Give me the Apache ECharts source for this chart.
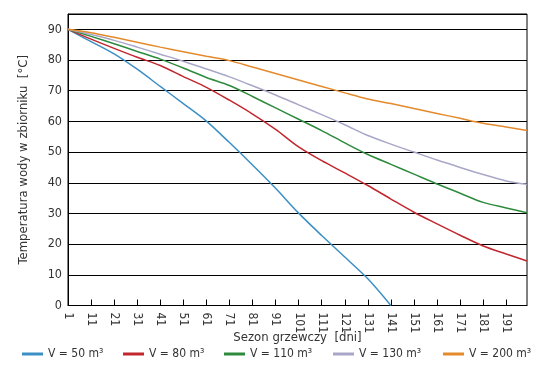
<!DOCTYPE html>
<html>
<head>
<meta charset="utf-8">
<script src="https://cdn.jsdelivr.net/npm/echarts@6/dist/echarts.min.js"></script>
<style>html,body{margin:0;padding:0;background:#fff}#c{width:545px;height:375px}</style>
</head>
<body>
<div id="c"></div>
<script>
var days = [1, 11, 21, 31, 41, 51, 61, 71, 81, 91, 101, 111, 121, 131, 141, 151, 161, 171, 181, 191, 200];
var v50  = [90, 86, 82, 77, 71.4, 65.8, 60.1, 53.1, 45.8, 38.2, 30.1, 22.8, 15.8, 8.7, 0];
var v80  = [90, 86.8, 83.8, 80.9, 78.2, 74.6, 71.1, 66.9, 62.4, 57.4, 51.7, 47.2, 43.2, 39.1, 34.7, 30.4, 26.6, 22.9, 19.4, 16.8, 14.5];
var v110 = [90, 87.7, 85.3, 82.8, 80.3, 77.4, 74.3, 71.7, 68.1, 64.4, 60.7, 57.0, 53.0, 49.2, 46.0, 42.8, 39.6, 36.6, 33.6, 31.8, 30.2];
var v130 = [90, 88.3, 86.4, 84.2, 81.9, 79.6, 77.1, 74.5, 71.6, 68.6, 65.4, 62.2, 58.9, 55.4, 52.6, 50.0, 47.4, 45.0, 42.7, 40.6, 39.5];
var v200 = [90, 88.9, 87.4, 85.8, 84.2, 82.7, 81.2, 79.8, 77.7, 75.6, 73.5, 71.4, 69.3, 67.3, 65.8, 64.2, 62.6, 61.0, 59.4, 58.2, 57.0];
var names = ['V = 50 m³', 'V = 80 m³', 'V = 110 m³', 'V = 130 m³', 'V = 200 m³'];
var colors = ['#3b8fc4', '#c1272d', '#2e8b3e', '#a9a7c8', '#e48a2c'];
var xTitle = 'Sezon grzewczy  [dni]';
var yTitle = 'Temperatura wody w zbiorniku  [°C]';

var FONT = '"Liberation Sans Narrow", "DejaVu Sans Condensed", "Liberation Sans", sans-serif';
var legendLefts = [22, 123, 224, 333, 443];
function pairs(vals) { return vals.map(function (v, i) { return [days[i], v]; }); }
var all = [v50, v80, v110, v130, v200];
var series = all.map(function (vals, i) {
  return {
    name: names[i], type: 'line', data: pairs(vals), smooth: 0.3,
    showSymbol: false, symbol: 'none',
    lineStyle: { color: colors[i], width: 1.5 }, itemStyle: { color: colors[i] }
  };
});
var legends = names.map(function (n, i) {
  return {
    top: 348, left: legendLefts[i], itemWidth: 21, itemHeight: 3, itemGap: 0, icon: 'rect', padding: 0,
    textStyle: { fontFamily: FONT, fontSize: 12, color: '#333' },
    data: [n]
  };
});
var chart = echarts.init(document.getElementById('c'), null, { renderer: 'canvas' });
chart.setOption({
  animation: false,
  textStyle: { fontFamily: FONT, color: '#333' },
  grid: { left: 68, right: 18, top: 14, bottom: 69.5, show: true, borderColor: '#000', borderWidth: 1 },
  legend: legends,
  xAxis: {
    type: 'value', min: 1, max: 200, interval: 10,
    name: xTitle, nameLocation: 'middle', nameGap: 26, nameMoveOverlap: false,
    nameTextStyle: { fontFamily: FONT, fontSize: 13, color: '#333' },
    axisLine: { show: true, lineStyle: { color: '#000', width: 1 } },
    axisTick: { show: true, inside: true, length: 6, lineStyle: { color: '#000' } },
    axisLabel: { rotate: -90, align: 'left', verticalAlign: 'middle', fontSize: 12, color: '#333', fontFamily: FONT, margin: 7, showMaxLabel: false },
    splitLine: { show: false }
  },
  yAxis: {
    type: 'value', min: 0, max: 95, interval: 10,
    name: yTitle, nameLocation: 'middle', nameGap: 38, nameMoveOverlap: false,
    nameTextStyle: { fontFamily: FONT, fontSize: 13, color: '#333' },
    axisLine: { show: true, lineStyle: { color: '#000', width: 1 } },
    axisTick: { show: false },
    axisLabel: { fontSize: 12.5, color: '#333', fontFamily: FONT, margin: 6, showMaxLabel: false,
      formatter: function (v) { return v % 10 === 0 ? String(v) : ''; } },
    splitLine: { show: true, lineStyle: { color: '#000', width: 1 } }
  },
  series: series
});
</script>
</body>
</html>
